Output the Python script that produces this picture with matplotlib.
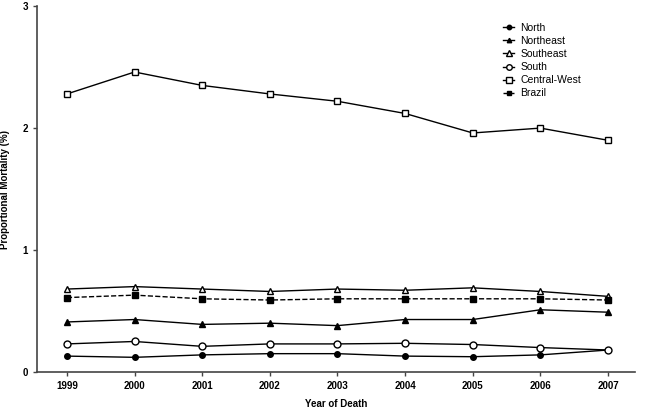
import numpy as np
import matplotlib.pyplot as plt

plt.rcParams['font.family'] = ['Liberation Sans', 'DejaVu Sans']

years = [1999, 2000, 2001, 2002, 2003, 2004, 2005, 2006, 2007]

north = [0.13, 0.12, 0.14, 0.15, 0.15, 0.13, 0.125, 0.14, 0.18]
northeast = [0.41, 0.43, 0.39, 0.40, 0.38, 0.43, 0.43, 0.51, 0.49]
southeast = [0.68, 0.70, 0.68, 0.66, 0.68, 0.67, 0.69, 0.66, 0.62]
south = [0.23, 0.25, 0.21, 0.23, 0.23, 0.235, 0.225, 0.20, 0.18]
central_west = [2.28, 2.46, 2.35, 2.28, 2.22, 2.12, 1.96, 2.00, 1.90]
brazil = [0.61, 0.63, 0.60, 0.59, 0.60, 0.60, 0.60, 0.60, 0.59]

fig = plt.figure(figsize=(6.52, 4.11), dpi=100)
ax = fig.add_axes([0.057, 0.095, 0.917, 0.89])

lw = 1.0
ax.plot(years, north, '-o', color='black', lw=lw, ms=4, mfc='black', label='North')
ax.plot(years, northeast, '-^', color='black', lw=lw, ms=4, mfc='black', label='Northeast')
ax.plot(years, southeast, '-^', color='black', lw=lw, ms=5, mfc='white', label='Southeast')
ax.plot(years, south, '-o', color='black', lw=lw, ms=5, mfc='white', label='South')
ax.plot(years, central_west, '-s', color='black', lw=lw, ms=5, mfc='white', label='Central-West')
ax.plot(years, brazil, '--s', color='black', lw=lw, ms=4, mfc='black', label='Brazil')

ax.set_xlim(1998.56, 2007.4)
ax.set_ylim(0, 3)
ax.set_xticks(years)
ax.set_yticks([0, 1, 2, 3])
ax.spines['top'].set_visible(False)
ax.spines['right'].set_visible(False)
ax.spines['left'].set_linewidth(1.2)
ax.spines['bottom'].set_linewidth(1.2)
ax.spines['left'].set_color('#444444')
ax.spines['bottom'].set_color('#444444')
ax.tick_params(axis='both', labelsize=7, length=3, width=1, color='#444444')
for lab in ax.get_xticklabels() + ax.get_yticklabels():
    lab.set_fontweight('bold')

ax.set_xlabel('Year of Death', fontsize=7, fontweight='bold', labelpad=6)
ax.set_ylabel('Proportional Mortality (%)', fontsize=7, fontweight='bold', labelpad=9)

ax.legend(loc='upper right', bbox_to_anchor=(0.925, 0.98), frameon=False, fontsize=7.5,
          handlelength=1.0, labelspacing=0.3, handletextpad=0.6, markerscale=0.8)

fig.savefig('out.png', dpi=100)
